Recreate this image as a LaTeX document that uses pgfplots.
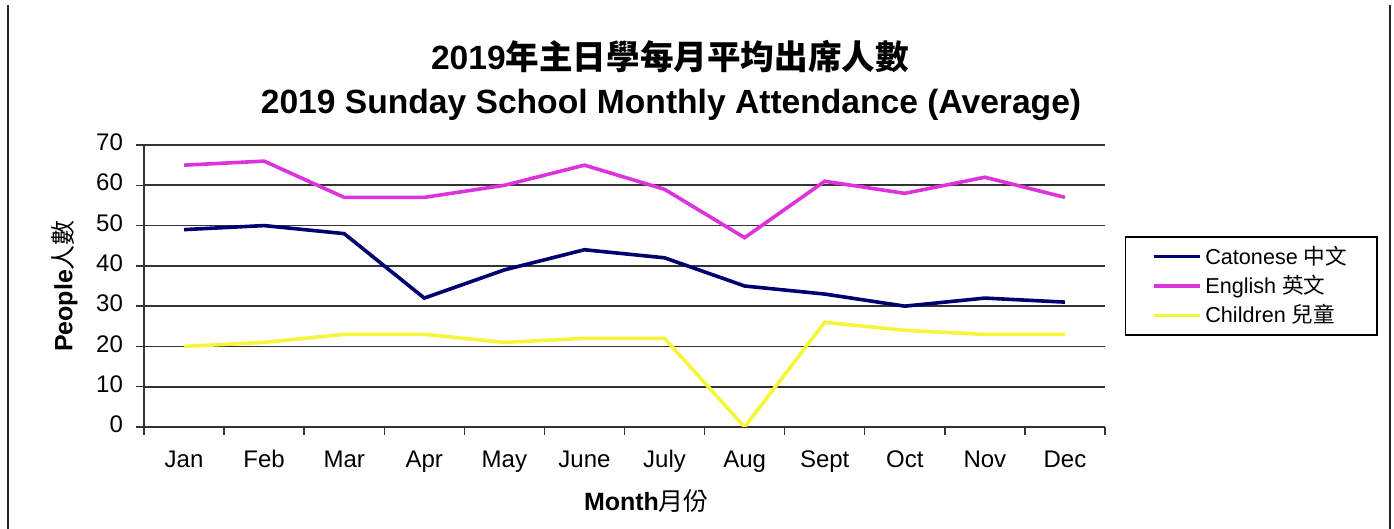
\documentclass[border=0pt]{standalone}
\usepackage{fontspec}
\setmainfont{Liberation Sans}
\newfontfamily\cjk{Noto Sans CJK TC}
\usepackage{pgfplots}
\pgfplotsset{compat=1.18}
\definecolor{cant}{HTML}{000070}
\definecolor{eng}{HTML}{DD33DD}
\definecolor{chi}{HTML}{F5F53A}
\begin{document}
\begin{tikzpicture}
\useasboundingbox (0pt,0pt) rectangle (697pt,-264.5pt);
\draw[line width=0.9pt, black!85] (4pt,-2.5pt) -- (4pt,-264.5pt);
\draw[line width=0.9pt, black!85] (695pt,-2.5pt) -- (695pt,-264.5pt);
\node[font=\fontsize{16.8}{18}\selectfont\bfseries] at (335pt,-28.5pt) {2019{\cjk\bfseries 年主日學每月平均出席人數}};
\node[font=\fontsize{16.8}{18}\selectfont\bfseries] at (335.5pt,-52.5pt) {2019 Sunday School Monthly Attendance (Average)};
\begin{axis}[
  at={(72pt,-213.5pt)}, anchor=south west,
  scale only axis, width=480.5pt, height=141pt,
  xmin=-0.5, xmax=11.5, ymin=0, ymax=70,
  xtick={-0.5,0.5,...,11.5},
  x tick label as interval,
  xticklabels={Jan,Feb,Mar,Apr,May,June,July,Aug,Sept,Oct,Nov,Dec},
  ytick={0,10,...,70},
  /pgf/number format/assume math mode=true,
  ymajorgrids, grid style={black!80, line width=0.9pt},
  axis x line*=bottom, axis y line*=left,
  axis line style={-, black!80, line width=0.9pt},
  tick align=outside, major tick length=4pt,
  tick style={black!80, line width=0.7pt},
  ticklabel style={font=\fontsize{12}{14}\selectfont},
  typeset ticklabels with strut,
  x tick label style={yshift=-3pt},
  y tick label style={xshift=-3pt},
  xlabel={\textbf{Month}{\cjk 月份}},
  ylabel={\textbf{People}{\cjk 人數}},
  label style={font=\fontsize{12.5}{14}\selectfont},
  xlabel style={yshift=0pt, xshift=11pt},
  ylabel style={yshift=2.5pt},
  legend style={at={(1.021,0.5)}, anchor=west, draw=black, line width=0.6pt,
    font=\fontsize{10.8}{12}\selectfont, row sep=0pt, inner xsep=13pt, inner ysep=2.5pt},
  legend cell align=left,
  legend image code/.code={\draw[#1, line width=1.8pt] (0pt,0pt) -- (23pt,0pt);},
]
\addplot[cant, line width=1.8pt] coordinates {(0,49) (1,50) (2,48) (3,32) (4,39) (5,44) (6,42) (7,35) (8,33) (9,30) (10,32) (11,31)};
\addlegendentry{Catonese {\cjk 中文}}
\addplot[eng, line width=1.8pt] coordinates {(0,65) (1,66) (2,57) (3,57) (4,60) (5,65) (6,59) (7,47) (8,61) (9,58) (10,62) (11,57)};
\addlegendentry{English {\cjk 英文}}
\addplot[chi, line width=1.8pt] coordinates {(0,20) (1,21) (2,23) (3,23) (4,21) (5,22) (6,22) (7,0) (8,26) (9,24) (10,23) (11,23)};
\addlegendentry{Children {\cjk 兒童}}
\end{axis}
\end{tikzpicture}
\end{document}
